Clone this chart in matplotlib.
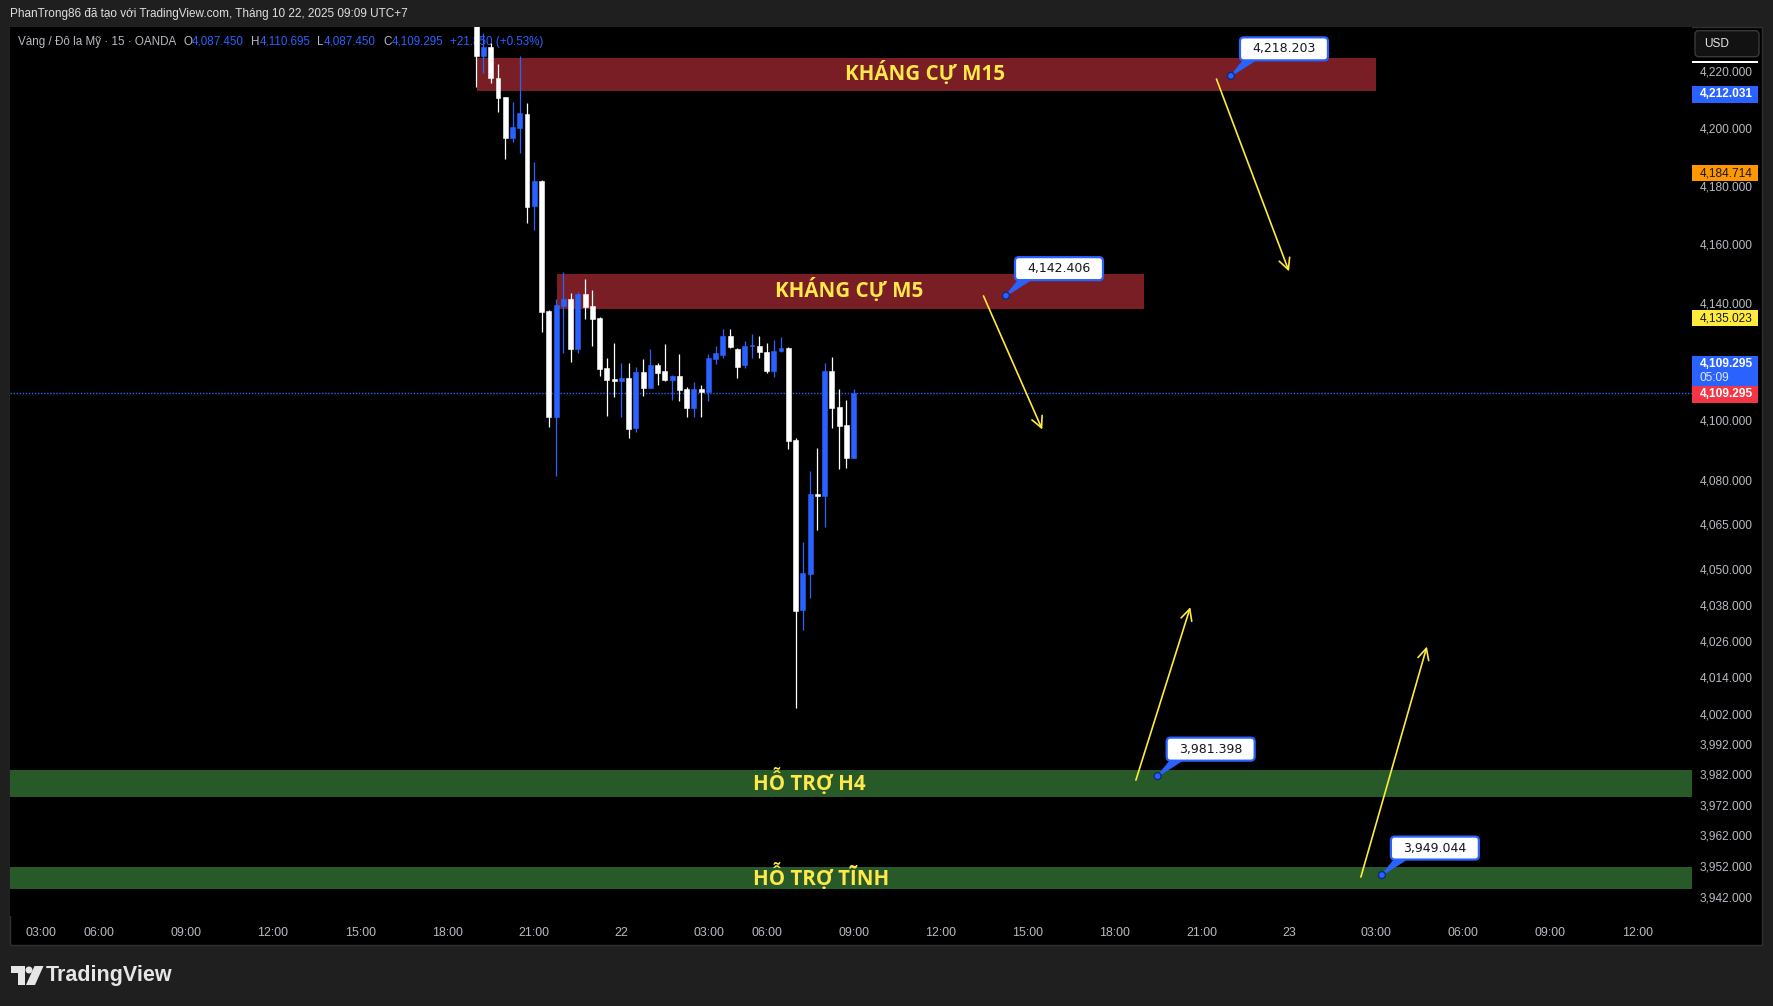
import numpy as np
import matplotlib
matplotlib.use('Agg')
import matplotlib.pyplot as plt
from matplotlib import font_manager
from matplotlib.patches import Rectangle, FancyBboxPatch, Circle, Polygon
from matplotlib.ticker import FixedLocator, NullLocator, FuncFormatter
from matplotlib.transforms import IdentityTransform

_names = {f.name for f in font_manager.fontManager.ttflist}


def pick(*cands):
    for c in cands:
        if c in _names:
            return c
    return 'DejaVu Sans'


BASE = pick('Liberation Sans', 'Arimo', 'DejaVu Sans')
ZONE = pick('Open Sans', 'Noto Sans', 'DejaVu Sans')
plt.rcParams['font.family'] = [BASE, 'DejaVu Sans']

# ---------------- data ----------------
bar_index = list(range(60, 113))
opens = [4241.0, 4225.2, 4228.2, 4217.6, 4210.9, 4196.8, 4200.2, 4205.0, 4173.3, 4181.8,
         4137.2, 4101.3, 4139.0, 4141.2, 4124.2, 4142.9, 4138.7, 4134.8, 4117.6, 4114.0,
         4113.4, 4114.3, 4097.5, 4116.4, 4111.0, 4118.9, 4116.6, 4113.7, 4114.9, 4110.6,
         4104.2, 4110.6, 4109.6, 4120.9, 4122.2, 4128.6, 4124.2, 4118.8, 4125.1, 4125.3,
         4123.3, 4116.9, 4123.6, 4124.6, 4093.2, 4036.3, 4048.3, 4075.3, 4074.4, 4116.6,
         4104.5, 4098.5, 4087.450]
highs = [4246.0, 4233.0, 4229.7, 4222.3, 4211.0, 4209.2, 4225.1, 4208.7, 4188.4, 4182.2,
         4137.6, 4141.1, 4150.6, 4143.2, 4143.6, 4148.1, 4144.3, 4135.1, 4121.0, 4126.2,
         4119.6, 4119.3, 4118.2, 4120.7, 4124.1, 4119.6, 4125.8, 4115.5, 4122.4, 4111.2,
         4113.0, 4112.1, 4122.4, 4125.1, 4131.0, 4131.0, 4124.5, 4126.9, 4129.3, 4128.6,
         4126.2, 4127.3, 4128.2, 4124.8, 4093.9, 4059.2, 4083.0, 4090.7, 4119.6, 4121.4,
         4110.6, 4106.9, 4110.695]
lows = [4214.4, 4219.3, 4215.8, 4205.5, 4189.5, 4195.4, 4191.4, 4167.4, 4164.9, 4130.1,
        4097.6, 4081.1, 4123.0, 4119.9, 4122.8, 4134.3, 4125.3, 4115.0, 4101.6, 4108.0,
        4101.3, 4093.9, 4095.9, 4108.4, 4110.8, 4111.9, 4113.5, 4106.8, 4106.5, 4101.0,
        4101.3, 4101.3, 4106.5, 4119.1, 4121.0, 4124.5, 4114.3, 4117.6, 4121.0, 4121.0,
        4116.2, 4114.6, 4123.3, 4090.2, 4003.8, 4029.8, 4040.4, 4063.2, 4064.2, 4097.5,
        4083.7, 4083.9, 4087.450]
closes = [4225.2, 4228.2, 4217.6, 4210.6, 4196.8, 4200.4, 4205.3, 4172.9, 4181.8, 4136.9,
          4101.3, 4139.1, 4141.2, 4124.2, 4142.9, 4138.5, 4134.4, 4117.4, 4113.7, 4113.4,
          4114.3, 4097.2, 4116.4, 4111.0, 4118.9, 4116.2, 4113.7, 4114.9, 4110.4, 4104.2,
          4110.6, 4109.6, 4121.1, 4122.8, 4128.6, 4125.0, 4118.2, 4125.1, 4125.5, 4123.3,
          4116.9, 4123.6, 4124.6, 4092.9, 4036.0, 4048.7, 4075.3, 4074.4, 4116.6, 4104.2,
          4098.2, 4087.45, 4109.295]

time_tick_pos = [0, 8, 20, 32, 44, 56, 68, 80, 92, 100, 112, 124, 136, 148, 160, 172,
                 184, 196, 208, 220]
time_tick_labels = ['03:00', '06:00', '09:00', '12:00', '15:00', '18:00', '21:00', '22',
                    '03:00', '06:00', '09:00', '12:00', '15:00', '18:00', '21:00', '23',
                    '03:00', '06:00', '09:00', '12:00']
price_ticks = [4220, 4200, 4180, 4160, 4140, 4100, 4080, 4065, 4050, 4038, 4026, 4014,
               4002, 3992, 3982, 3972, 3962, 3952, 3942]

zone_names = ['KHÁNG CỰ M15', 'KHÁNG CỰ M5', 'HỖ TRỢ H4', 'HỖ TRỢ TĨNH']
zone_low = [4213.0, 4138.0, 3974.6, 3944.6]
zone_high = [4224.4, 4149.8, 3983.4, 3951.8]
zone_start = [60.1, 71.1, -10.0, -10.0]
zone_end = [184.0, 152.0, 240.0, 240.0]
zone_label_x = [121.8, 111.4, 105.9, 107.5]
zone_kind = ['res', 'res', 'sup', 'sup']

callout_x = [164.0, 133.0, 153.9, 184.8]
callout_price = [4218.203, 4142.406, 3981.398, 3949.044]

arrow_start_x = [162.0, 129.9, 150.9, 181.9]
arrow_start_p = [4217.1, 4142.3, 3980.1, 3948.4]
arrow_end_x = [172.0, 138.0, 158.4, 191.0]
arrow_end_p = [4150.7, 4096.9, 4037.3, 4024.2]

badge_prices = [4212.031, 4184.714, 4135.023]
badge_kind = ['blue', 'orange', 'yellow']
last_price = 4109.295
countdown = '05:09'

legend_pieces = [('Vàng / Đô la Mỹ · 15 · OANDA', 'g', 7), ('O', 'g', 0), ('4,087.450', 'b', 7),
                 ('H', 'g', 0), ('4,110.695', 'b', 7), ('L', 'g', 0), ('4,087.450', 'b', 7),
                 ('C', 'g', 0), ('4,109.295', 'b', 7), ('+21.850 (+0.53%)', 'b', 0)]

# ---------------- style ----------------
BG = '#1f1f1f'
BLUE = '#2962ff'
WHITE = '#ffffff'
GREY = '#b8bbc2'
RED_ZONE = '#7a1e25'
GREEN_ZONE = '#285a29'
YELLOW = '#ffeb3b'
ZONE_TXT = '#ffe94a'

W, H = 1773, 1006
fig = plt.figure(figsize=(W / 100, H / 100), dpi=100, facecolor=BG)
ID = IdentityTransform()


def T(y):
    return H - y


fig.add_artist(Rectangle((10, T(945)), 1752, 918, transform=ID, fc='black',
                         ec='#303030', lw=1, zorder=-1))

ax = fig.add_axes([10 / W, (H - 916) / H, 1682 / W, 889 / H])
ax.set_facecolor('black')
for s in ax.spines.values():
    s.set_visible(False)
ax.set_yscale('log')
ax.set_ylim(3935.73, 4235.24)
ax.set_xlim(-4.244, 227.53)

ax.yaxis.tick_right()
ax.yaxis.set_major_locator(FixedLocator(price_ticks))
ax.yaxis.set_minor_locator(NullLocator())
ax.yaxis.set_major_formatter(FuncFormatter(lambda v, p: f"{v:,.3f}"))
ax.yaxis.set_minor_formatter(FuncFormatter(lambda v, p: ''))
ax.tick_params(axis='y', which='both', length=0, pad=5.8, labelsize=8.6, labelcolor=GREY)
ax.set_xticks(time_tick_pos)
ax.set_xticklabels(time_tick_labels)
ax.tick_params(axis='x', length=0, pad=8.2, labelsize=8.9, labelcolor=GREY)

# zones
for name, lo, hi, x0, x1, lx, kind in zip(zone_names, zone_low, zone_high, zone_start,
                                           zone_end, zone_label_x, zone_kind):
    col = RED_ZONE if kind == 'res' else GREEN_ZONE
    ax.fill_between([x0, x1], lo, hi, color=col, lw=0, zorder=2)
    ax.annotate(name, xy=(lx, np.sqrt(lo * hi)), xytext=(0, 1.5), textcoords='offset pixels',
                ha='center', va='center', color=ZONE_TXT, fontsize=14.8, fontweight='bold',
                family=[ZONE, 'DejaVu Sans'], zorder=6)

# current price line
ax.axhline(last_price, color=BLUE, lw=1.0, ls=(0, (1, 1.2)), zorder=3)

# candles
o = np.array(opens)
c = np.array(closes)
hh = np.array(highs)
ll = np.array(lows)
xi = np.array(bar_index)
cols = np.where(c >= o, BLUE, WHITE)
ax.vlines(xi, ll, hh, colors=cols, lw=0.9, zorder=4)
ax.bar(xi, np.abs(c - o), bottom=np.minimum(o, c), width=0.68, color=cols,
       edgecolor=cols, linewidth=0.4, zorder=5)

# arrows
for sx, sp, ex, ep in zip(arrow_start_x, arrow_start_p, arrow_end_x, arrow_end_p):
    ax.annotate('', xy=(ex, ep), xytext=(sx, sp),
                arrowprops=dict(arrowstyle='->', color=YELLOW, lw=1.2, mutation_scale=20,
                                shrinkA=0, shrinkB=0), zorder=7, annotation_clip=False)

# legend line (under candles)
renderer = fig.canvas.get_renderer()
lx_px = 18
for s, cc, gap in legend_pieces:
    t = ax.text(lx_px, T(41.8), s, transform=ID, color=GREY if cc == 'g' else BLUE,
                fontsize=8.4, va='center', ha='left', zorder=1)
    lx_px += t.get_window_extent(renderer).width + gap

# header
fig.text(10 / W, 1 - 14.5 / H, 'PhanTrong86 đã tạo với TradingView.com, Tháng 10 22, 2025 09:09 UTC+7',
         color='#e0e0e0', fontsize=8.5, va='center', ha='left')

# callouts
for cx, cp in zip(callout_x, callout_price):
    dx, dy = ax.transData.transform((cx, cp))
    bx, by = dx + 53, dy + 27
    fig.add_artist(Polygon([(dx, dy), (bx - 40, by - 11), (bx - 28, by - 11)], closed=True,
                           transform=ID, fc=BLUE, ec=BLUE, lw=1, zorder=8))
    fig.add_artist(FancyBboxPatch((bx - 44, by - 11.5), 88, 23,
                                  boxstyle='round,pad=0,rounding_size=4', fc='white', ec=BLUE,
                                  lw=1.6, transform=ID, zorder=9))
    fig.text(bx, by, f"{cp:,.3f}", transform=ID, ha='center', va='center', fontsize=9,
             color='#131722', family=['DejaVu Sans'], zorder=10)
    fig.add_artist(Circle((dx, dy), 3.5, transform=ID, fc=BLUE, ec='#0d2a80', lw=1, zorder=11))

# price-scale badges
badge_style = {'blue': (BLUE, 'white', 'bold'), 'orange': ('#ff9800', '#131722', 'normal'),
               'yellow': ('#ffeb3b', '#131722', 'normal'), 'red': ('#f23645', 'white', 'bold')}


def ypix(p):
    return ax.transData.transform((0, p))[1]


for bp, kind in zip(badge_prices, badge_kind):
    fc, tc, fw = badge_style[kind]
    yc = ypix(bp) - 0.8
    fig.add_artist(Rectangle((1692, yc - 8.2), 66, 16.4, transform=ID, fc=fc, ec='none', zorder=8))
    fig.text(1700, yc, f"{bp:,.3f}", transform=ID, ha='left', va='center', fontsize=8.6,
             color=tc, fontweight=fw, zorder=9)

yc = ypix(last_price) - 1.5
fig.add_artist(Rectangle((1692, yc - 8.3), 66, 16.6, transform=ID, fc='#f23645', ec='none', zorder=8))
fig.text(1700, yc, f"{last_price:,.3f}", transform=ID, ha='left', va='center', fontsize=8.6,
         color='white', fontweight='bold', zorder=9)
fig.add_artist(Rectangle((1692, yc + 8.3), 66, 30, transform=ID, fc=BLUE, ec='none', zorder=8))
fig.text(1700, yc + 8.3 + 22.3, f"{last_price:,.3f}", transform=ID, ha='left', va='center',
         fontsize=8.6, color='white', fontweight='bold', zorder=9)
fig.text(1700, yc + 8.3 + 8.3, countdown, transform=ID, ha='left', va='center',
         fontsize=8.6, color='#dfe6ff', zorder=9)

# USD button and top marker
fig.add_artist(FancyBboxPatch((1695, T(56.7)), 64, 26, boxstyle='round,pad=0,rounding_size=4',
                              fc='#121212', ec='#3a3a3a', lw=1, transform=ID, zorder=8))
fig.text(1704, T(44), 'USD', transform=ID, ha='left', va='center', fontsize=8.6,
         color='#e6e6e6', zorder=9)
fig.add_artist(Rectangle((1692, T(63)), 66, 2, transform=ID, fc='white', ec='none', zorder=8))

# TradingView logo
LOGO = '#e6e6e6'
fig.add_artist(Polygon([(11, T(966)), (24.5, T(966)), (24.5, T(985)), (17.5, T(985)),
                        (17.5, T(973)), (11, T(973))], closed=True, transform=ID,
                       fc=LOGO, ec='none', zorder=8))
fig.add_artist(Circle((29, T(970)), 3.5, transform=ID, fc=LOGO, ec='none', zorder=8))
fig.add_artist(Polygon([(34.5, T(966)), (43.5, T(966)), (35, T(985)), (26, T(985))],
                       closed=True, transform=ID, fc=LOGO, ec='none', zorder=8))
fig.text(46, T(976), 'TradingView', transform=ID, ha='left', va='center', fontsize=15.5,
         fontweight='bold', color=LOGO, zorder=9)

fig.savefig('out.png', dpi=100, facecolor=BG)
